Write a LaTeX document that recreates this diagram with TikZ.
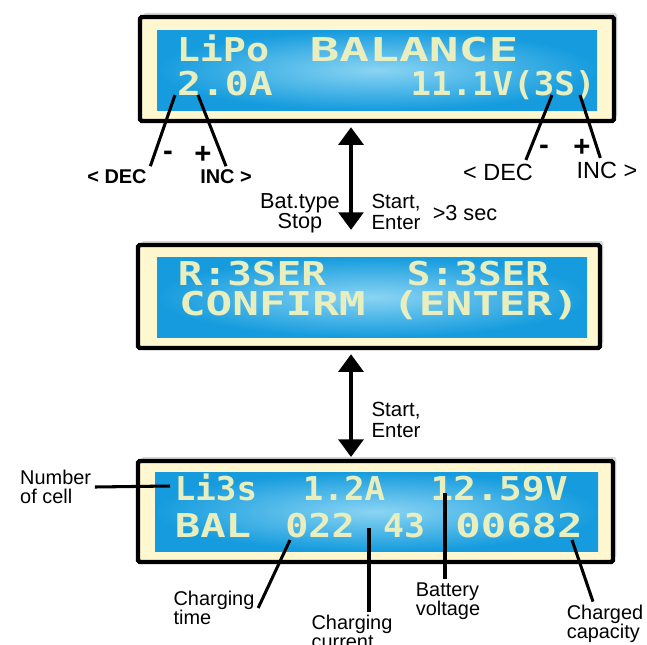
\documentclass[tikz,border=0pt]{standalone}
\usepackage{graphicx}
\usepackage{fontspec}
\setmainfont{Liberation Sans}
\newfontfamily\lcdfont{DejaVu Sans Mono}
\usetikzlibrary{arrows.meta, shadows}
\definecolor{cream}{RGB}{255,247,208}
\definecolor{lcdblue}{RGB}{22,156,222}
\definecolor{lcdlight}{RGB}{138,212,243}
\definecolor{lcdink}{RGB}{232,238,190}
\newcommand{\lcdw}[2]{\scalebox{#1}[1]{#2}}
\tikzstyle{frame} = [rectangle, draw=black, line width=3.8pt, fill=cream, rounded corners=1.5pt, drop shadow={shadow xshift=1mm, shadow yshift=1.2mm, fill=black, opacity=0.15}]
\tikzstyle{screen} = [rectangle, inner color=lcdlight, outer color=lcdblue]
\tikzstyle{lcd} = [anchor=base, inner sep=0pt, text=lcdink, font=\lcdfont\bfseries\fontsize{28}{30}\selectfont]
\tikzstyle{annot} = [inner sep=3pt, align=center, font=\fontsize{17}{16}\selectfont]
\tikzstyle{keynote} = [annot, font=\fontsize{18.5}{17}\selectfont]
\tikzstyle{startnote} = [annot, inner sep=1pt, align=left, font=\fontsize{17.5}{17.5}\selectfont]
\tikzstyle{keybold} = [annot, font=\fontsize{17}{18}\selectfont\bfseries]
\tikzstyle{keyplain} = [annot, inner sep=1pt, font=\fontsize{20}{22}\selectfont]
\tikzstyle{sign} = [annot, inner sep=0pt, font=\fontsize{25}{26}\selectfont\bfseries]
\tikzstyle{pointer} = [line width=2.6pt]
\tikzstyle{updown} = [line width=3.4pt, {Triangle[width=21pt, length=15pt]}-{Triangle[width=21pt, length=15pt]}]

\begin{document}
\begin{tikzpicture}[x=0.3mm, y=-0.3mm]
    \useasboundingbox (0,0) rectangle (647,644);

    \node [frame, minimum width=142.2mm, minimum height=31.2mm] at (377,69) (panelA) {};
    \node [screen, minimum width=132mm, minimum height=24mm] at (377,70) (screenA) {};
    \node [frame, minimum width=138.6mm, minimum height=30.9mm] at (369,296.5) (panelB) {};
    \node [screen, minimum width=129mm, minimum height=24mm] at (372,297) (screenB) {};
    \node [frame, minimum width=142.5mm, minimum height=30.3mm] at (375.5,511.5) (panelC) {};
    \node [screen, minimum width=132.9mm, minimum height=23.7mm] at (376.5,511.5) (screenC) {};

    \node [lcd] at (223,61) (lipo) {\lcdw{1.17}{LiPo}};
    \node [lcd] at (414,61) (balance) {\lcdw{1.51}{BALANCE}};
    \node [lcd] at (225,95) (amps) {\lcdw{1.21}{2.0A}};
    \node [lcd] at (503,95) (volts) {\lcdw{1.04}{11.1V(3S)}};
    \node [lcd] at (252,285) (rser) {\lcdw{1.25}{R:3SER}};
    \node [lcd] at (478,285) (sser) {\lcdw{1.2}{S:3SER}};
    \node [lcd] at (379,315) (confirm) {\lcdw{1.35}{CONFIRM (ENTER)}};
    \node [lcd] at (216,500) (cells) {\lcdw{1.04}{Li3s}};
    \node [lcd] at (344,500) (rate) {\lcdw{1.04}{1.2A}};
    \node [lcd] at (499,500) (vbat) {\lcdw{1.16}{12.59V}};
    \node [lcd] at (213,537) (bal) {\lcdw{1.29}{BAL}};
    \node [lcd] at (320,537) (hours) {\lcdw{1.17}{022}};
    \node [lcd] at (404,537) (mins) {\lcdw{1.06}{43}};
    \node [lcd] at (519,537) (mah) {\lcdw{1.29}{00682}};

    \node [keybold] at (117,177) (decleft) {< DEC};
    \node [keybold] at (226,177) (incleft) {INC >};
    \node [sign] at (168,156) (minusleft) {-};
    \node [sign] at (203,155) (plusleft) {+};
    \node [keyplain] at (498,172) (decright) {< DEC};
    \node [keyplain] at (607,170) (incright) {INC >};
    \node [sign] at (544,150) (minusright) {-};
    \node [sign] at (582,148) (plusright) {+};

    \node [keynote] at (300,213) (battype) {Bat.type\\Stop};
    \node [startnote] at (396,212) (startA) {Start,\\Enter};
    \node [keynote, inner sep=1pt] at (465,213) (hold) {>3 sec};
    \node [startnote] at (396,420) (startB) {Start,\\Enter};

    \node [annot, align=left, anchor=west] at (16.5,487) (cellnote) {Number\\of cell};
    \node [annot, align=left] at (214,608) (timenote) {Charging\\time};
    \node [annot, align=left] at (352,632) (currentnote) {Charging\\current};
    \node [annot, align=left] at (448,601) (voltnote) {Battery\\voltage};
    \node [annot, align=left] at (605,624) (capnote) {Charged\\capacity};

    \coordinate (pdecleft) at (175,95);
    \coordinate (pincleft) at (198,95);
    \coordinate (pdecright) at (552,95);
    \coordinate (pincright) at (580,95);
    \coordinate (pcell) at (170,486);
    \coordinate (ptime) at (290,540);
    \coordinate (pcurrent) at (369,528);
    \coordinate (pvolt) at (445,493);
    \coordinate (pcap) at (572,540);

    \draw [updown, shorten <=3.4pt, shorten >=11pt] ([xshift=-7.8mm]panelA.south) -- ([xshift=-5.4mm]panelB.north);
    \draw [updown, shorten <=3.4pt, shorten >=1.5pt] ([xshift=-5.4mm]panelB.south) -- ([xshift=-7.35mm]panelC.north);

    \draw [pointer] (pdecleft) -- (decleft.north east);
    \draw [pointer] (pincleft) -- (incleft.north);
    \draw [pointer] (pdecright) -- ([xshift=-2.5mm, yshift=2pt]decright.north east);
    \draw [pointer] (pincright) -- ([xshift=-2mm, yshift=2pt]incright.north);
    \draw [pointer] (pcell) -- (cellnote.east);
    \draw [pointer] (ptime) -- (timenote.east);
    \draw [pointer] (pcurrent) -- (pcurrent |- currentnote.north);
    \draw [pointer] (pvolt) -- (pvolt |- voltnote.north);
    \draw [pointer] (pcap) -- ([xshift=-3.6mm]capnote.north);
\end{tikzpicture}
\end{document}
